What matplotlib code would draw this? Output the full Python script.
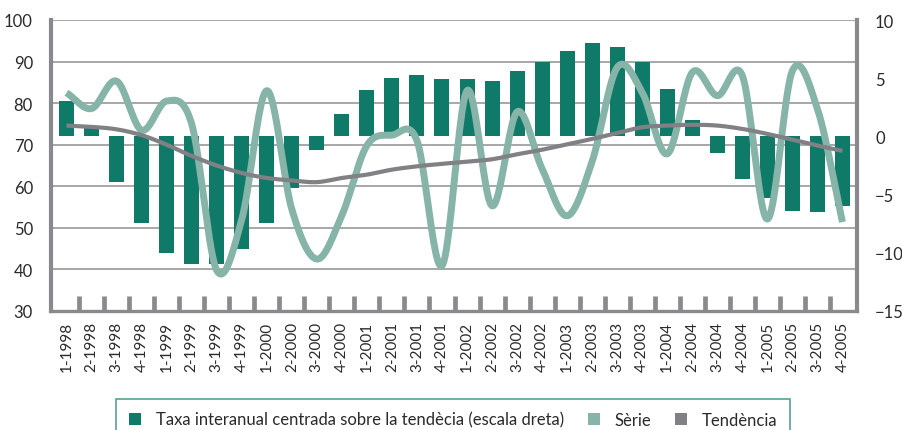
import numpy as np
import matplotlib
matplotlib.use("Agg")
import matplotlib.pyplot as plt
from matplotlib.patches import Patch

plt.rcParams['font.family'] = ['Lato', 'DejaVu Sans']

categories = [f"{q}-{y}" for y in range(1998, 2006) for q in range(1, 5)]

taxa = [3.0, 0.7, -3.9, -7.4, -10.0, -11.0, -11.0, -9.7,
        -7.4, -4.4, -1.2, 1.9, 4.0, 5.0, 5.3, 4.9,
        4.9, 4.8, 5.6, 6.4, 7.3, 8.0, 7.7, 6.4,
        4.1, 1.4, -1.4, -3.7, -5.3, -6.4, -6.5, -6.0]

serie = [82.5, 78.7, 85.3, 73.5, 80.5, 75.0, 39.8, 52.0,
         83.0, 54.5, 42.5, 53.0, 69.8, 72.3, 71.0, 40.9,
         83.0, 55.3, 77.9, 64.2, 52.9, 66.0, 88.6, 82.6,
         67.8, 87.4, 81.8, 86.6, 52.1, 87.8, 78.6, 51.4]

tendencia = [74.6, 74.3, 73.7, 72.3, 70.0, 67.3, 65.0, 63.2,
             62.0, 61.4, 61.0, 62.0, 62.8, 64.0, 64.8, 65.4,
             65.9, 66.5, 67.7, 68.8, 70.1, 71.4, 72.8, 74.2,
             74.6, 74.8, 74.6, 73.8, 72.6, 71.2, 69.8, 68.5]

left_ticks = [30, 40, 50, 60, 70, 80, 90, 100]
right_ticks = [-15, -10, -5, 0, 5, 10]

C_BAR = '#0f7a68'
C_SERIE = '#86b4a8'
C_TEND = '#818085'
C_AXIS = '#8a8a8e'
C_GRID = '#a0a0a0'
C_TEXT = '#2a2a2a'


def smooth(x, y, n=24):
    """Catmull-Rom style smoothing for drawing a smooth line through points."""
    x = np.asarray(x, float)
    y = np.asarray(y, float)
    m = np.zeros_like(y)
    m[1:-1] = (y[2:] - y[:-2]) / 2.0
    m[0] = y[1] - y[0]
    m[-1] = y[-1] - y[-2]
    xs, ys = [], []
    for i in range(len(x) - 1):
        t = np.linspace(0, 1, n, endpoint=False)
        h00 = 2 * t**3 - 3 * t**2 + 1
        h10 = t**3 - 2 * t**2 + t
        h01 = -2 * t**3 + 3 * t**2
        h11 = t**3 - t**2
        ys.append(h00 * y[i] + h10 * m[i] + h01 * y[i + 1] + h11 * m[i + 1])
        xs.append(x[i] + t * (x[i + 1] - x[i]))
    xs.append([x[-1]])
    ys.append([y[-1]])
    return np.concatenate(xs), np.concatenate(ys)


fig = plt.figure(figsize=(9.03, 4.31), dpi=100)
ax1 = fig.add_axes([51 / 903, 1 - 312 / 431, (857 - 51) / 903, (312 - 21) / 431])
x = np.arange(len(categories))
xlim = (-0.62, 31.58)

# base axis: grid, left labels, category labels
ax1.set_xlim(*xlim)
ax1.set_ylim(30, 100)
ax1.set_yticks(left_ticks)
ax1.yaxis.grid(True, color=C_GRID, lw=1.3)
ax1.set_axisbelow(True)
ax1.set_xticks(x)
ax1.set_xticklabels(categories, rotation=90, fontsize=11, color=C_TEXT)
ax1.set_xticks(np.arange(0.5, len(categories) - 1, 1), minor=True)
ax1.tick_params(axis='x', which='major', length=0, pad=7)
ax1.tick_params(axis='x', which='minor', direction='in', length=10.5, width=3.4, color=C_AXIS)
ax1.tick_params(axis='y', length=0, pad=13, labelsize=12, labelcolor=C_TEXT)
for s in ['top', 'right']:
    ax1.spines[s].set_visible(False)
ax1.spines['left'].set_color(C_AXIS)
ax1.spines['left'].set_linewidth(3.0)
ax1.spines['bottom'].set_color(C_AXIS)
ax1.spines['bottom'].set_linewidth(2.4)

# bars on right scale
ax2 = ax1.twinx()
ax2.set_xlim(*xlim)
ax2.bar(x, taxa, width=0.6, color=C_BAR, zorder=2)
ax2.set_ylim(-15, 10)
ax2.set_yticks(right_ticks)
ax2.tick_params(axis='y', length=0, pad=13, labelsize=12, labelcolor=C_TEXT)
for s in ['top', 'left', 'bottom']:
    ax2.spines[s].set_visible(False)
ax2.spines['right'].set_color(C_AXIS)
ax2.spines['right'].set_linewidth(3.0)

# lines on left scale, drawn on top of bars
ax3 = ax1.twinx()
ax3.set_xlim(*xlim)
ax3.set_ylim(30, 100)
ax3.set_yticks([])
for s in ax3.spines.values():
    s.set_visible(False)
sx, sy = smooth(x, serie)
ax3.plot(sx, sy, color=C_SERIE, lw=5.0, solid_capstyle='butt', solid_joinstyle='round')
tx, ty = smooth(x, tendencia)
ax3.plot(tx, ty, color=C_TEND, lw=3.0, solid_capstyle='butt')

handles = [Patch(facecolor=C_BAR, edgecolor='none'),
           Patch(facecolor=C_SERIE, edgecolor='none'),
           Patch(facecolor=C_TEND, edgecolor='none')]
labels = ['Taxa interanual centrada sobre la tendècia (escala dreta)', 'Sèrie', 'Tendència']
leg = fig.legend(handles, labels, loc='upper center', bbox_to_anchor=(0.502, 1 - 400 / 431),
                 ncol=3, frameon=True, fancybox=False, fontsize=12,
                 handlelength=0.7, handleheight=0.7, handletextpad=0.9,
                 columnspacing=1.45, borderpad=0.75, borderaxespad=0, labelcolor=C_TEXT)
leg.get_frame().set_edgecolor('#2f8a78')
leg.get_frame().set_linewidth(1.2)

fig.savefig('out.png', dpi=100)
